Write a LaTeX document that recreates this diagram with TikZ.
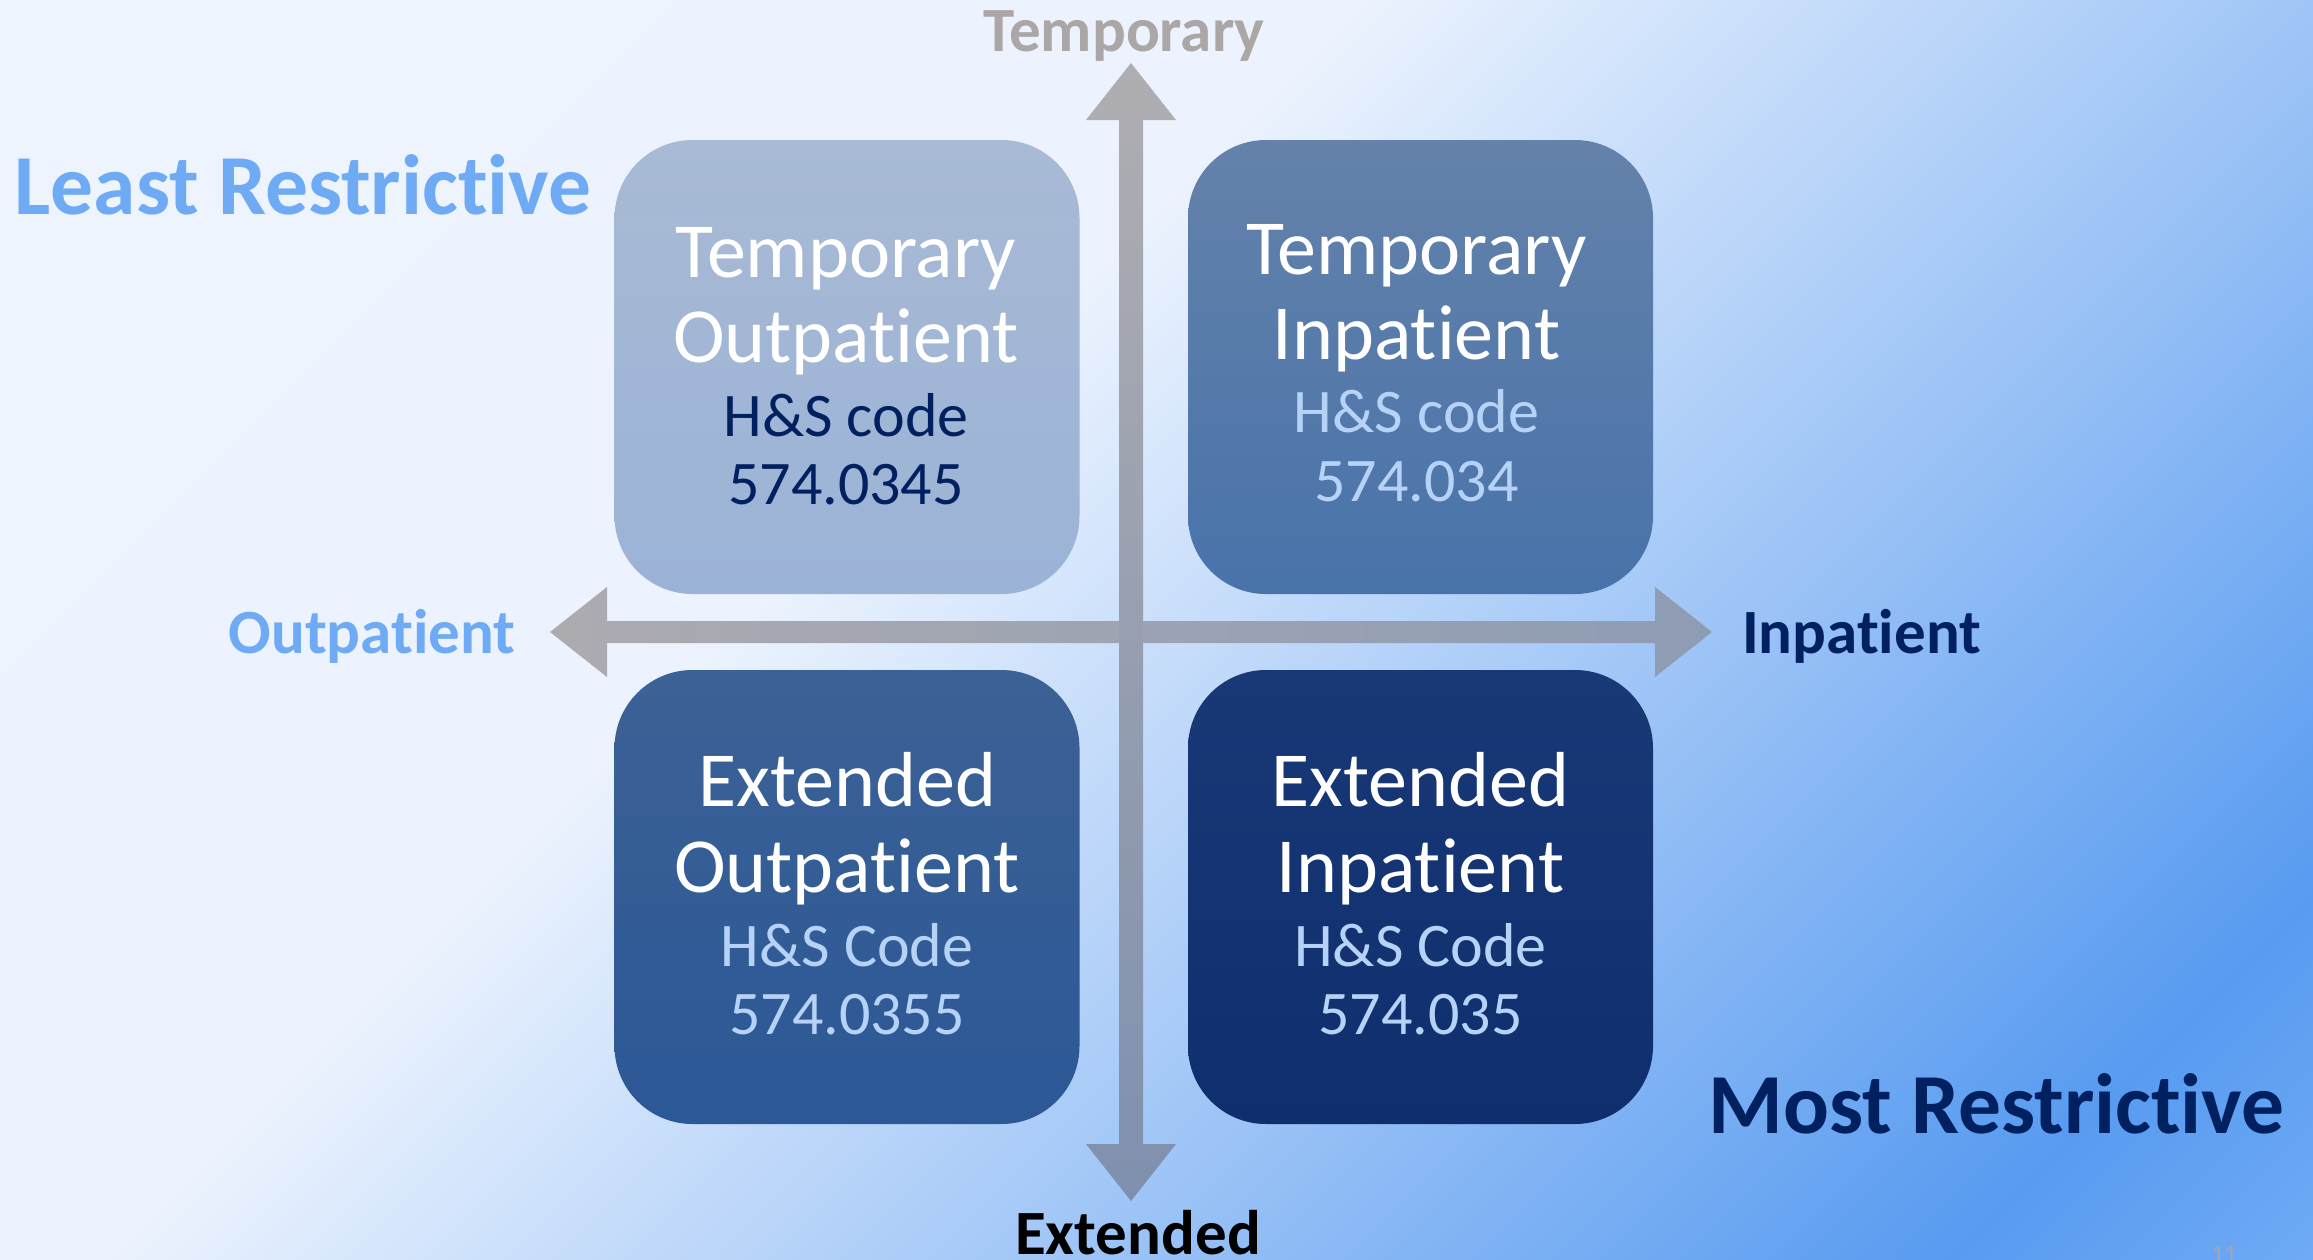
\documentclass[tikz,border=0pt]{standalone}
\usepackage{fontspec}
\setmainfont{Carlito}[Ligatures={NoCommon,NoContextual}]
\newcommand\myti{t\kern0pt i}
\usetikzlibrary{calc}
\definecolor{bgA}{HTML}{EEF4FE}
\definecolor{bgB}{HTML}{ECF3FE}
\definecolor{bgC}{HTML}{589BF0}
\definecolor{bgD}{HTML}{6EAAF5}
\definecolor{lightlbl}{HTML}{6FAAF5}
\definecolor{navy}{HTML}{002060}
\definecolor{topgray}{HTML}{ABA7A6}
\definecolor{codeblue}{HTML}{B6D2F7}
\definecolor{tlA}{HTML}{A8BAD4}
\definecolor{tlB}{HTML}{9BB3D7}
\definecolor{trA}{HTML}{6482AA}
\definecolor{trB}{HTML}{4873AA}
\definecolor{blA}{HTML}{3C6196}
\definecolor{blB}{HTML}{2B5896}
\definecolor{brA}{HTML}{193876}
\definecolor{brB}{HTML}{0E2E6E}
\definecolor{arrA}{HTML}{AFAEB2}
\definecolor{arrB}{HTML}{7F90AE}
\definecolor{arrC}{HTML}{ACABB0}
\definecolor{arrD}{HTML}{8E9CB4}
\definecolor{pagenum}{HTML}{A0A6B8}
\pgfdeclarehorizontalshading{bgshade}{100bp}{color(0bp)=(bgA); color(14.64bp)=(bgA); color(41.5bp)=(bgB); color(78.3bp)=(bgC); color(85.36bp)=(bgD); color(100bp)=(bgD)}
\begin{document}
\begin{tikzpicture}[x=1pt,y=-1pt,
  qbox/.style={minimum width=465, minimum height=454, rounded corners=78, inner sep=0, draw=none},
  bigt/.style={font=\fontsize{78}{90}\selectfont, text=white, anchor=base, inner sep=0},
  smallt/.style={font=\fontsize{62}{72}\selectfont, anchor=base, inner sep=0},
  lbl/.style={font=\bfseries\fontsize{63}{72}\selectfont, anchor=base, inner sep=0},
  biglbl/.style={font=\bfseries\fontsize{85.5}{96}\selectfont, anchor=base, inner sep=0}]
\useasboundingbox (0,0) rectangle (2313,1259);
\shade[shading=bgshade, shading angle=-45] (0,0) rectangle (2313,1259);

% axes
\coordinate (hL) at (550,632);
\coordinate (hR) at (1712,632);
\coordinate (vT) at (1131,63);
\coordinate (vB) at (1131,1201);
\shade[left color=arrC, right color=arrD]
  (hL) -- ($(hL)+(57,-45)$) -- ($(hL)+(57,-11)$) -- ($(hR)+(-57,-11)$) -- ($(hR)+(-57,-45)$)
  -- (hR) -- ($(hR)+(-57,45)$) -- ($(hR)+(-57,11)$) -- ($(hL)+(57,11)$) -- ($(hL)+(57,45)$) -- cycle;
\shade[top color=arrA, bottom color=arrB]
  (vT) -- ($(vT)+(45,57)$) -- ($(vT)+(12,57)$) -- ($(vB)+(12,-57)$) -- ($(vB)+(45,-57)$)
  -- (vB) -- ($(vB)+(-45,-57)$) -- ($(vB)+(-12,-57)$) -- ($(vT)+(-12,57)$) -- ($(vT)+(-45,57)$) -- cycle;

% boxes
\node[qbox, top color=tlA, bottom color=tlB] (tl) at (847,367) {};
\node[qbox, top color=trA, bottom color=trB] (tr) at (1420.5,367) {};
\node[qbox, top color=blA, bottom color=blB] (bl) at (847,897) {};
\node[qbox, top color=brA, bottom color=brB] (br) at (1420.5,897) {};

% box texts
\node[bigt] (tl1) at ($(tl.north)+(-1,138)$) {Temporary};
\node[bigt] (tl2) at ($(tl.north)+(-1,223)$) {Outpa\myti ent};
\node[smallt, text=navy] (tl3) at ($(tl.north)+(-1,297)$) {H\&S code};
\node[smallt, text=navy] (tl4) at ($(tl.north)+(-1,365)$) {574.0345};

\node[bigt] (tr1) at ($(tr.north)+(-4,135)$) {Temporary};
\node[bigt] (tr2) at ($(tr.north)+(-4,220)$) {Inpa\myti ent};
\node[smallt, text=codeblue] (tr3) at ($(tr.north)+(-4,293)$) {H\&S code};
\node[smallt, text=codeblue] (tr4) at ($(tr.north)+(-4,362)$) {574.034};

\node[bigt] (bl1) at ($(bl.north)+(0,137)$) {Extended};
\node[bigt] (bl2) at ($(bl.north)+(0,223)$) {Outpa\myti ent};
\node[smallt, text=codeblue] (bl3) at ($(bl.north)+(0,297)$) {H\&S Code};
\node[smallt, text=codeblue] (bl4) at ($(bl.north)+(0,365)$) {574.0355};

\node[bigt] (br1) at ($(br.north)+(0,137)$) {Extended};
\node[bigt] (br2) at ($(br.north)+(0,223)$) {Inpa\myti ent};
\node[smallt, text=codeblue] (br3) at ($(br.north)+(0,297)$) {H\&S Code};
\node[smallt, text=codeblue] (br4) at ($(br.north)+(0,365)$) {574.035};

% axis labels
\node[lbl, text=topgray] (ltemp) at (1124,51) {Temporary};
\node[lbl, text=black] (lext) at (1138,1254) {Extended};
\node[lbl, text=lightlbl] (lout) at (372,653) {Outpa\myti ent};
\node[lbl, text=navy] (linp) at (1861.5,653) {Inpa\myti ent};
\node[biglbl, text=lightlbl] (least) at (303,214) {Least Restric\myti ve};
\node[biglbl, text=navy] (most) at (1996.5,1133) {Most Restric\myti ve};
\node[font=\fontsize{25}{30}\selectfont, text=pagenum, anchor=base, inner sep=0] (pg) at (2224,1262) {11};
\end{tikzpicture}
\end{document}
